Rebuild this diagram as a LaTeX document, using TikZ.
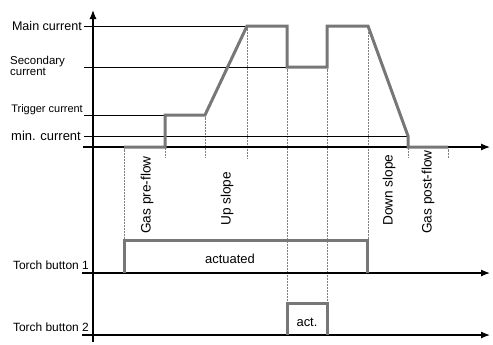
\documentclass[tikz,border=0pt]{standalone}
\usepackage{fontspec}
\setmainfont{Liberation Sans}
\usetikzlibrary{arrows.meta}
\definecolor{sigGray}{HTML}{777777}

\begin{document}
\begin{tikzpicture}[x=1bp,y=-1bp,
    axis/.style={line width=1.2bp,-{Latex[length=9bp,width=7bp]}},
    level/.style={line width=0.7bp},
    signal/.style={line width=3bp,draw=sigGray,line join=miter},
    guide/.style={densely dotted,line width=0.5bp,draw=gray},
    lab/.style={font=\fontsize{#1}{#1}\selectfont,inner sep=1bp},
    lab/.default=12,
    phase/.style={lab=13.7,rotate=90,anchor=west}]
    \useasboundingbox (0,0) rectangle (493,344);

    % time marks and levels
    \foreach \n/\x in {0/124,1/165,2/205,3/247,4/287,5/327,6/368,7/408,8/448}
        \coordinate (t\n) at (\x,0);
    \coordinate (main) at (84,26);
    \coordinate (sec) at (84,67);
    \coordinate (trig) at (84,115);
    \coordinate (min) at (84,136);
    \coordinate (time) at (83,147);
    \coordinate (tbA) at (82,273);
    \coordinate (tbB) at (82,335);
    \coordinate (gend) at (0,158);
    \coordinate (tbAtop) at (0,240);
    \coordinate (tbBtop) at (0,303);
    \coordinate (ybot) at (93,342);
    \coordinate (ytop) at (93,10);
    \coordinate (xend) at (490,0);

    % dotted guides
    \draw[guide] (t0 |- time) -- (t0 |- tbAtop);
    \draw[guide] (t1 |- trig) -- (t1 |- gend);
    \draw[guide] (t2 |- trig) -- (t2 |- gend);
    \draw[guide] (t3 |- main) -- (t3 |- gend);
    \draw[guide] (t4 |- sec) -- (t4 |- tbBtop);
    \draw[guide] (t5 |- sec) -- (t5 |- tbBtop);
    \draw[guide] (t6 |- main) -- (t6 |- tbAtop);
    \draw[guide] (t7 |- min) -- (t7 |- gend);
    \draw[guide] (t8 |- time) -- (t8 |- gend);

    % level lines
    \draw[level] (main) -- (t3 |- main);
    \draw[level] (sec) -- (t4 |- sec);
    \draw[level] (trig) -- (t1 |- trig);
    \draw[level] (min) -- (t7 |- min);

    % axes
    \draw[axis] (ybot) -- (ytop);
    \draw[axis] (time) -- (xend |- time);
    \draw[axis] (tbA) -- (xend |- tbA);
    \draw[axis] (tbB) -- (xend |- tbB);

    % current curve
    \draw[signal] (t0 |- time) -- (t1 |- time) -- (t1 |- trig) -- (t2 |- trig)
        -- (t3 |- main) -- (t4 |- main) -- (t4 |- sec) -- (t5 |- sec)
        -- (t5 |- main) -- (t6 |- main) -- (t7 |- min) -- (t7 |- time) -- (t8 |- time);

    % torch buttons
    \draw[signal] (t0 |- tbA) -- (t0 |- tbAtop) -- (367,240) -- (367,273);
    \draw[signal] (t4 |- tbB) -- (t4 |- tbBtop) -- (t5 |- tbBtop) -- (t5 |- tbB);

    % labels
    \node (lmain) at (83,26) [lab=12.6, anchor=east] {Main current};
    \node (lsec) at (9,66) [lab=11.5, anchor=west, align=left] {Secondary\\current};
    \node (ltrig) at (84,110) [lab=11, anchor=east] {Trigger current};
    \node (lmin) at (82,136) [lab=13, anchor=east] {min. current};
    \node (ltbA) at (90,265) [lab, anchor=east] {Torch button 1};
    \node (ltbB) at (90,327) [lab, anchor=east] {Torch button 2};
    \node (lact) at (230,259) [lab=13] {actuated};
    \node (lactB) at (307,322) [lab=13] {act.};
    \node (lpre) at (147,235) [phase] {Gas pre-flow};
    \node (lup) at (227,227) [phase] {Up slope};
    \node (ldown) at (389,227) [phase] {Down slope};
    \node (lpost) at (428,235) [phase] {Gas post-flow};
\end{tikzpicture}
\end{document}
